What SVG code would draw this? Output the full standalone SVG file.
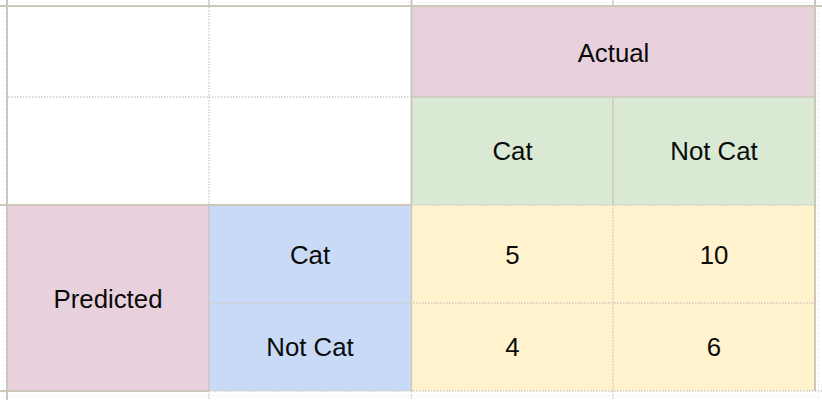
<svg xmlns="http://www.w3.org/2000/svg" width="822" height="400" viewBox="0 0 822 400">
  <style>
    .t { font-family: "Liberation Sans", Arial, sans-serif; font-size: 25.8px; fill: #0a0a0a; text-anchor: middle; }
    .pink { fill: #e8d1dc; }
    .green { fill: #d9e9d3; }
    .blue { fill: #c9daf7; }
    .yellow { fill: #fff2cc; }
    .major { stroke: #ccc7bb; stroke-width: 2; fill: none; }
    .minor { stroke: #ccc7bb; stroke-width: 1.4; fill: none; }
    .dot { stroke: #cfcbc3; stroke-width: 1.4; stroke-dasharray: 1.5 1.5; fill: none; }
    .faint { stroke: #e0dce6; stroke-width: 1; stroke-dasharray: 1 3; fill: none; }
  </style>
  <rect x="0" y="0" width="822" height="400" fill="#ffffff"/>
  <g id="margins">
    <line class="faint" x1="8" y1="2.5" x2="822" y2="2.5"/>
    <line class="faint" x1="3" y1="8" x2="3" y2="400"/>
    <line class="faint" x1="818.5" y1="8" x2="818.5" y2="400"/>
    <line class="faint" x1="8" y1="396" x2="815" y2="396"/>
  </g>

  <g id="cell-actual">
    <rect class="pink" x="412" y="7" width="403" height="90"/>
    <text class="t" x="613.5" y="62">Actual</text>
  </g>
  <g id="cell-actual-cat">
    <rect class="green" x="412" y="97" width="201" height="108"/>
    <text class="t" x="512.5" y="160">Cat</text>
  </g>
  <g id="cell-actual-notcat">
    <rect class="green" x="613" y="97" width="202" height="108"/>
    <text class="t" x="714" y="160">Not Cat</text>
  </g>
  <g id="cell-predicted">
    <rect class="pink" x="8" y="205" width="201" height="186"/>
    <text class="t" x="108" y="307.5">Predicted</text>
  </g>
  <g id="cell-pred-cat">
    <rect class="blue" x="209" y="205" width="202" height="98"/>
    <text class="t" x="310" y="263.5">Cat</text>
  </g>
  <g id="cell-pred-notcat">
    <rect class="blue" x="209" y="303" width="202" height="88"/>
    <text class="t" x="310" y="355.5">Not Cat</text>
  </g>
  <g id="cell-5">
    <rect class="yellow" x="412" y="205" width="201" height="98"/>
    <text class="t" x="512.5" y="263.5">5</text>
  </g>
  <g id="cell-10">
    <rect class="yellow" x="613" y="205" width="202" height="98"/>
    <text class="t" x="714" y="263.5">10</text>
  </g>
  <g id="cell-4">
    <rect class="yellow" x="412" y="303" width="201" height="88"/>
    <text class="t" x="512.5" y="355.5">4</text>
  </g>
  <g id="cell-6">
    <rect class="yellow" x="613" y="303" width="202" height="88"/>
    <text class="t" x="714" y="355.5">6</text>
  </g>

  <g id="gridlines">
    <line class="dot" x1="209" y1="7" x2="209" y2="205"/>
    <line class="dot" x1="8" y1="97" x2="411" y2="97"/>
    <line class="dot" x1="209" y1="303" x2="815" y2="303"/>
    <line class="dot" x1="411" y1="205" x2="815" y2="205"/>
    <line class="dot" x1="613" y1="205" x2="613" y2="391"/>
    <line class="dot" x1="209" y1="391" x2="822" y2="391"/>
    <line class="dot" x1="209" y1="391" x2="209" y2="400"/>
    <line class="dot" x1="411.5" y1="391" x2="411.5" y2="400"/>
    <line class="dot" x1="613" y1="391" x2="613" y2="400"/>
    <line class="major" x1="0" y1="6" x2="822" y2="6"/>
    <line class="major" x1="7" y1="0" x2="7" y2="400"/>
    <line class="minor" x1="209" y1="0" x2="209" y2="7"/>
    <line class="major" x1="411.5" y1="0" x2="411.5" y2="205"/>
    <line class="minor" x1="411.5" y1="205" x2="411.5" y2="391"/>
    <line class="minor" x1="613" y1="0" x2="613" y2="7"/>
    <line class="minor" x1="613" y1="97" x2="613" y2="205"/>
    <line class="major" x1="815" y1="0" x2="815" y2="391"/>
    <line class="minor" x1="411" y1="97" x2="816" y2="97"/>
    <line class="major" x1="0" y1="205" x2="411" y2="205"/>
    <line class="minor" x1="209" y1="205" x2="209" y2="391"/>
    <line class="major" x1="0" y1="391" x2="209" y2="391"/>
  </g>
</svg>
